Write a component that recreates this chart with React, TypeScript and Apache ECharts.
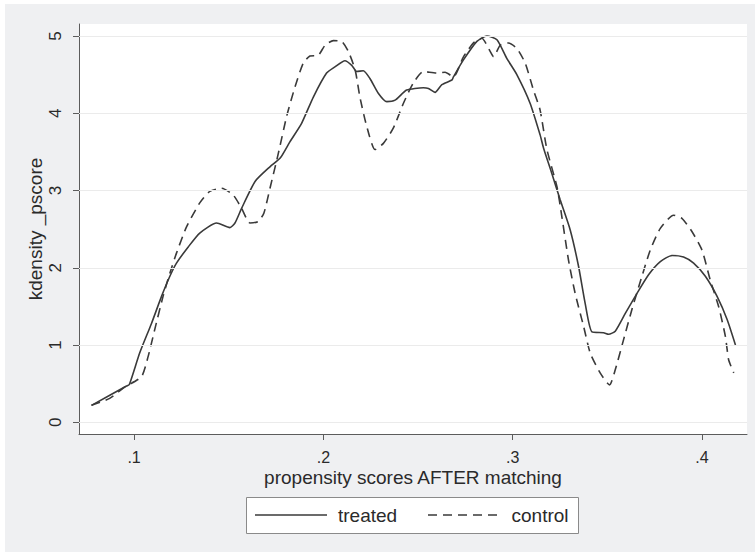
import React, { useEffect, useRef } from "react";
import * as echarts from "echarts";

const xTickValues = [0.1, 0.2, 0.3, 0.4];
const xTickLabels = [".1", ".2", ".3", ".4"];
const yTickValues = [0, 1, 2, 3, 4, 5];
const yTickLabels = ["0", "1", "2", "3", "4", "5"];
const seriesNames = ["treated", "control"];

const treated: [number, number][] = [
  [0.0775, 0.22], [0.096, 0.47], [0.0975, 0.49], [0.103, 0.9], [0.1092, 1.28],
  [0.1145, 1.63], [0.1189, 1.89], [0.1224, 2.06], [0.1286, 2.27], [0.1347, 2.45],
  [0.1436, 2.58], [0.1506, 2.52], [0.1533, 2.58], [0.1568, 2.77], [0.164, 3.12],
  [0.1719, 3.31], [0.1772, 3.42], [0.1823, 3.63], [0.1885, 3.87], [0.1947, 4.21],
  [0.2017, 4.52], [0.2061, 4.6], [0.2114, 4.68], [0.215, 4.62], [0.2176, 4.54],
  [0.2211, 4.55], [0.2246, 4.45], [0.229, 4.26], [0.2335, 4.15], [0.2379, 4.17],
  [0.244, 4.3], [0.2528, 4.33], [0.2555, 4.32], [0.259, 4.27], [0.2626, 4.37],
  [0.2679, 4.43], [0.2687, 4.47], [0.274, 4.69], [0.2811, 4.93], [0.2864, 5.0],
  [0.2917, 4.95], [0.2969, 4.71], [0.3022, 4.5], [0.3092, 4.13], [0.3145, 3.72],
  [0.3163, 3.55], [0.3207, 3.22], [0.3251, 2.88], [0.3304, 2.49], [0.3348, 2.02],
  [0.3383, 1.54], [0.3419, 1.17], [0.348, 1.16], [0.3507, 1.14], [0.3542, 1.18],
  [0.3595, 1.41], [0.3657, 1.67], [0.3718, 1.91], [0.378, 2.08], [0.3842, 2.16],
  [0.3903, 2.14], [0.3956, 2.06], [0.4018, 1.89], [0.408, 1.63], [0.4133, 1.33],
  [0.4177, 1.0],
];

const control: [number, number][] = [
  [0.0775, 0.22], [0.0871, 0.31], [0.095, 0.455], [0.1039, 0.59], [0.1074, 0.85],
  [0.1109, 1.2], [0.1153, 1.63], [0.1189, 1.93], [0.1224, 2.19], [0.1277, 2.53],
  [0.1347, 2.84], [0.14, 2.99], [0.1462, 3.03], [0.1524, 2.94], [0.1568, 2.77],
  [0.1612, 2.58], [0.1656, 2.6], [0.1686, 2.71], [0.1718, 3.03], [0.1762, 3.48],
  [0.1806, 3.96], [0.185, 4.34], [0.1894, 4.65], [0.1929, 4.74], [0.1973, 4.75],
  [0.2009, 4.88], [0.2053, 4.94], [0.2097, 4.93], [0.2132, 4.8], [0.2168, 4.56],
  [0.2193, 4.21], [0.2229, 3.83], [0.2273, 3.53], [0.2317, 3.61], [0.237, 3.81],
  [0.2423, 4.13], [0.2475, 4.39], [0.2528, 4.54], [0.2599, 4.52], [0.2643, 4.53],
  [0.2687, 4.47], [0.274, 4.73], [0.2793, 4.91], [0.2837, 4.97], [0.2881, 4.8],
  [0.2899, 4.73], [0.2934, 4.88], [0.2978, 4.91], [0.3022, 4.84], [0.3066, 4.65],
  [0.311, 4.3], [0.3145, 4.04], [0.3181, 3.53], [0.3234, 3.05], [0.326, 2.66],
  [0.3295, 2.1], [0.333, 1.67], [0.3375, 1.24], [0.341, 0.895], [0.3463, 0.636],
  [0.3512, 0.485], [0.3542, 0.68], [0.3586, 1.07], [0.363, 1.46], [0.3683, 1.89],
  [0.3727, 2.23], [0.378, 2.51], [0.385, 2.68], [0.3894, 2.64], [0.3947, 2.47],
  [0.4, 2.23], [0.4044, 1.84], [0.4088, 1.5], [0.4124, 1.11], [0.4141, 0.81],
  [0.4168, 0.64],
];

const FONT = "'Liberation Sans', Arial, Helvetica, sans-serif";
const TEXT = "#2a2a2a";
const AXIS = "#5c5c5c";
const CURVE = "#3a3a3a";
const DASH = [9, 6];

function labelFor(values: number[], labels: string[], v: number): string {
  let best = 0;
  for (let i = 1; i < values.length; i++) {
    if (Math.abs(values[i] - v) < Math.abs(values[best] - v)) best = i;
  }
  return labels[best];
}

export default function App() {
  const ref = useRef<HTMLDivElement>(null);

  useEffect(() => {
    if (!ref.current) return;
    const chart = echarts.init(ref.current, undefined, { renderer: "svg" });
    const legendY = 511;
    chart.setOption({
      animation: false,
      backgroundColor: "#eff0f2",
      textStyle: { fontFamily: FONT },
      grid: {
        left: 74,
        top: 20,
        right: 8,
        bottom: 118,
        show: true,
        backgroundColor: "#ffffff",
        borderWidth: 0,
      },
      graphic: [
        {
          type: "rect",
          shape: { x: 241.5, y: 493.5, width: 332, height: 36 },
          style: { fill: "#ffffff", stroke: "#8a8a8a", lineWidth: 1 },
          silent: true,
        },
        {
          type: "line",
          shape: { x1: 250, y1: legendY, x2: 322, y2: legendY },
          style: { stroke: CURVE, lineWidth: 1.6 },
          silent: true,
        },
        {
          type: "text",
          x: 333,
          y: legendY,
          style: {
            text: seriesNames[0],
            fill: TEXT,
            fontSize: 19,
            fontFamily: FONT,
            verticalAlign: "middle",
            align: "left",
          },
          silent: true,
        },
        {
          type: "line",
          shape: { x1: 423, y1: legendY, x2: 496, y2: legendY },
          style: { stroke: CURVE, lineWidth: 1.6, lineDash: DASH },
          silent: true,
        },
        {
          type: "text",
          x: 506.5,
          y: legendY,
          style: {
            text: seriesNames[1],
            fill: TEXT,
            fontSize: 19,
            fontFamily: FONT,
            verticalAlign: "middle",
            align: "left",
          },
          silent: true,
        },
      ],
      xAxis: {
        type: "value",
        min: 0.0709,
        max: 0.4238,
        name: "propensity scores AFTER matching",
        nameLocation: "middle",
        nameGap: 36,
        nameMoveOverlap: false,
        nameTextStyle: { fontSize: 19, lineHeight: 15, color: TEXT, fontFamily: FONT },
        axisLine: { show: true, onZero: false, lineStyle: { color: AXIS, width: 1 } },
        axisTick: {
          show: true,
          customValues: xTickValues,
          length: 6,
          lineStyle: { color: AXIS, width: 1 },
        },
        axisLabel: {
          customValues: xTickValues,
          formatter: (v: number) => labelFor(xTickValues, xTickLabels, v),
          fontSize: 16,
          lineHeight: 13,
          color: TEXT,
          margin: 16.5,
          fontFamily: FONT,
        },
        splitLine: { show: false },
      },
      yAxis: {
        type: "value",
        min: -0.151,
        max: 5.155,
        name: "kdensity _pscore",
        nameLocation: "middle",
        nameGap: 34,
        nameRotate: 90,
        nameMoveOverlap: false,
        nameTextStyle: { fontSize: 19, color: TEXT, fontFamily: FONT },
        axisLine: { show: true, onZero: false, lineStyle: { color: AXIS, width: 1 } },
        axisTick: {
          show: true,
          customValues: yTickValues,
          length: 6,
          lineStyle: { color: AXIS, width: 1 },
        },
        axisLabel: {
          customValues: yTickValues,
          formatter: (v: number) => labelFor(yTickValues, yTickLabels, v),
          rotate: 90,
          fontSize: 17,
          color: TEXT,
          margin: 15,
          fontFamily: FONT,
        },
        splitLine: { show: false },
      },
      series: [
        {
          name: "_grid",
          type: "line",
          data: [],
          z: 1,
          silent: true,
          markLine: {
            silent: true,
            symbol: ["none", "none"],
            label: { show: false },
            lineStyle: { color: "#ebebeb", width: 1, type: "solid" },
            emphasis: { disabled: true },
            data: yTickValues.map((v) => ({ yAxis: v })),
          },
        },
        {
          name: seriesNames[0],
          type: "line",
          data: treated,
          symbol: "none",
          smooth: 0.2,
          z: 3,
          lineStyle: { color: CURVE, width: 1.6, type: "solid" },
          itemStyle: { color: CURVE },
        },
        {
          name: seriesNames[1],
          type: "line",
          data: control,
          symbol: "none",
          smooth: 0.2,
          z: 3,
          lineStyle: { color: CURVE, width: 1.6, type: DASH },
          itemStyle: { color: CURVE },
        },
      ],
    });
    return () => chart.dispose();
  }, []);

  return (
    <div
      style={{
        position: "fixed",
        left: 0,
        top: 0,
        width: 755,
        height: 552,
        background: "#ffffff",
        overflow: "hidden",
      }}
    >
      <div
        ref={ref}
        style={{ position: "absolute", left: 5, top: 4, width: 750, height: 548 }}
      />
    </div>
  );
}
